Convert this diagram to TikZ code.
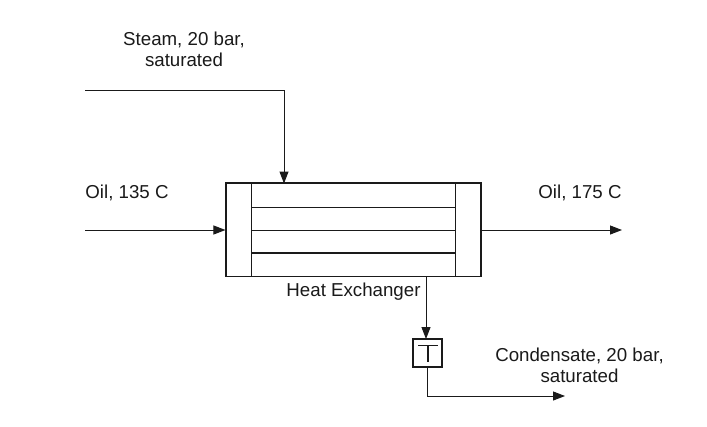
\documentclass[tikz,border=0pt]{standalone}
\usepackage{fontspec}
\setmainfont{Liberation Sans}
\usetikzlibrary{arrows.meta}
\definecolor{ink}{HTML}{1A1A1A}
\tikzset{
  x=1pt,y=-1pt,
  shell/.style={draw=ink,line width=1.1pt},
  tube/.style={draw=ink,line width=1pt},
  flow/.style={draw=ink,line width=1pt,-{Triangle[length=12pt,width=9pt]}},
  lbl/.style={font=\fontsize{18.7}{21}\selectfont,text=ink,align=center,inner sep=0pt},
  trap/.style={draw=ink,line width=1.8pt,minimum width=28.5pt,minimum height=27.5pt,inner sep=0pt}
}
\begin{document}
\begin{tikzpicture}
\useasboundingbox (0,0) rectangle (707,426);
\fill[white] (0,0) rectangle (707,426);
% heat exchanger
\node[shell,minimum width=255pt,minimum height=93pt,inner sep=0pt] (hx) at (353.5,230) {};
\coordinate (hxsteam) at (284,183.5);
\coordinate (hxdrain) at (426,276.5);
\draw[draw=ink,line width=1.9pt] (hx.north west) -- (hx.north east);
\draw[tube] (251.5,183.5) -- (251.5,276.5);
\draw[tube] (455,183.5) -- (455,276.5);
\draw[tube] (251.5,207) -- (455,207);
\draw[tube] (251.5,230) -- (455,230);
\draw[draw=ink,line width=1.6pt] (251.5,253) -- (455,253);
% trap
\node[trap] (trap) at (427.5,353) {};
\coordinate (t1) at (418,345.5);
\coordinate (t2) at (438,345.5);
\coordinate (t3) at (428,345.5);
\coordinate (t4) at (428,362);
\draw[draw=ink,line width=1.5pt] (t1) -- (t2) (t3) -- (t4);
% stream ends
\coordinate (steamin) at (85,90);
\coordinate (steamcorner) at (284,90);
\coordinate (oilin) at (85,230);
\coordinate (oilout) at (622,230);
\coordinate (condcorner) at (427,396);
\coordinate (condout) at (565,396);
\coordinate (trapin) at (426,339);
\coordinate (trapout) at (427,367);
% connectors
\draw[flow] (steamin) -- (steamcorner) -- (hxsteam);
\draw[flow] (oilin) -- (hx.west);
\draw[flow] (hx.east) -- (oilout);
\draw[flow] (hxdrain) -- (trapin);
\draw[flow] (trapout) -- (condcorner) -- (condout);
% labels
\node[lbl] (steam) at (184,49) {Steam, 20 bar,\\saturated};
\node[lbl] (oila) at (127,193) {Oil, 135 C};
\node[lbl] (oilb) at (580,193) {Oil, 175 C};
\node[lbl] (hxl) at (353.5,292) {Heat Exchanger};
\node[lbl] (cond) at (579.5,365) {Condensate, 20 bar,\\saturated};
\end{tikzpicture}
\end{document}
